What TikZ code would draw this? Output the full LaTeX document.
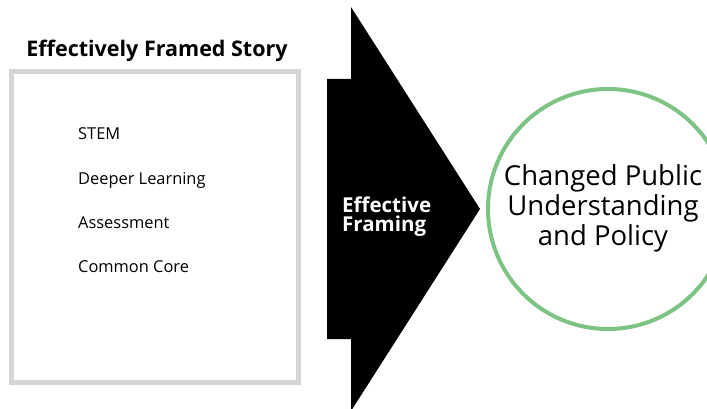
\documentclass[tikz,border=0pt]{standalone}
\usepackage{fontspec}
\setmainfont{Open Sans}
\usetikzlibrary{positioning}
\definecolor{boxgray}{HTML}{D5D5D5}
\definecolor{ringgreen}{HTML}{7DC383}
\tikzset{
	item/.style={anchor=base west, inner sep=0pt, font=\fontsize{16.4}{18}\selectfont},
}
\begin{document}
\begin{tikzpicture}[x=1pt,y=-1pt]
			\newcommand{\mytitlefont}{\fontsize{21.5}{24}\selectfont\bfseries}
			\newcommand{\myringfont}{\fontsize{27.5}{30}\selectfont}
			%Outer frame of the page
			\useasboundingbox (0,0) rectangle (707,409);
			\clip (0,0) rectangle (707,409);
			%The story box
			\coordinate (boxTL) at (11.5,71.5);
			\coordinate (boxBR) at (298.5,382.5);
			\draw[boxgray, line width=5pt] (boxTL) rectangle (boxBR);
			\node (title) [inner sep=0pt, anchor=base, font=\mytitlefont] at (157,57) {Effectively Framed Story};
			%Items in the box
			\node (stem) [item] at (78,140) {STEM};
			\node (deeper) [item] at (78,184) {Deeper Learning};
			\node (assess) [item] at (78,228) {Assessment};
			\node (core) [item] at (78,272) {Common Core};
			%The big arrow
			\coordinate (tip) at (480,209);
			\coordinate (headTop) at (351,7);
			\coordinate (headBot) at (351,411);
			\coordinate (notchTop) at (351,79);
			\coordinate (notchBot) at (351,339);
			\coordinate (tailTop) at (327,79);
			\coordinate (tailBot) at (327,339);
			\fill[black] (headTop) -- (tip) -- (headBot) -- (notchBot) -- (tailBot) -- (tailTop) -- (notchTop) -- cycle;
			\node (framing) [anchor=base west, align=left, inner sep=0pt, text=white,
				font=\fontsize{20.5}{19}\selectfont\bfseries] at (342,231) {Effective\\Framing};
			%The ring
			\coordinate (ringCenter) at (608,209);
			\draw[ringgreen, line width=4pt] (ringCenter) circle (120);
			\node (outcome) [align=center, anchor=base, inner sep=0pt, font=\myringfont] at (603,245) {Changed Public\\Understanding\\and Policy};
\end{tikzpicture}
\end{document}
